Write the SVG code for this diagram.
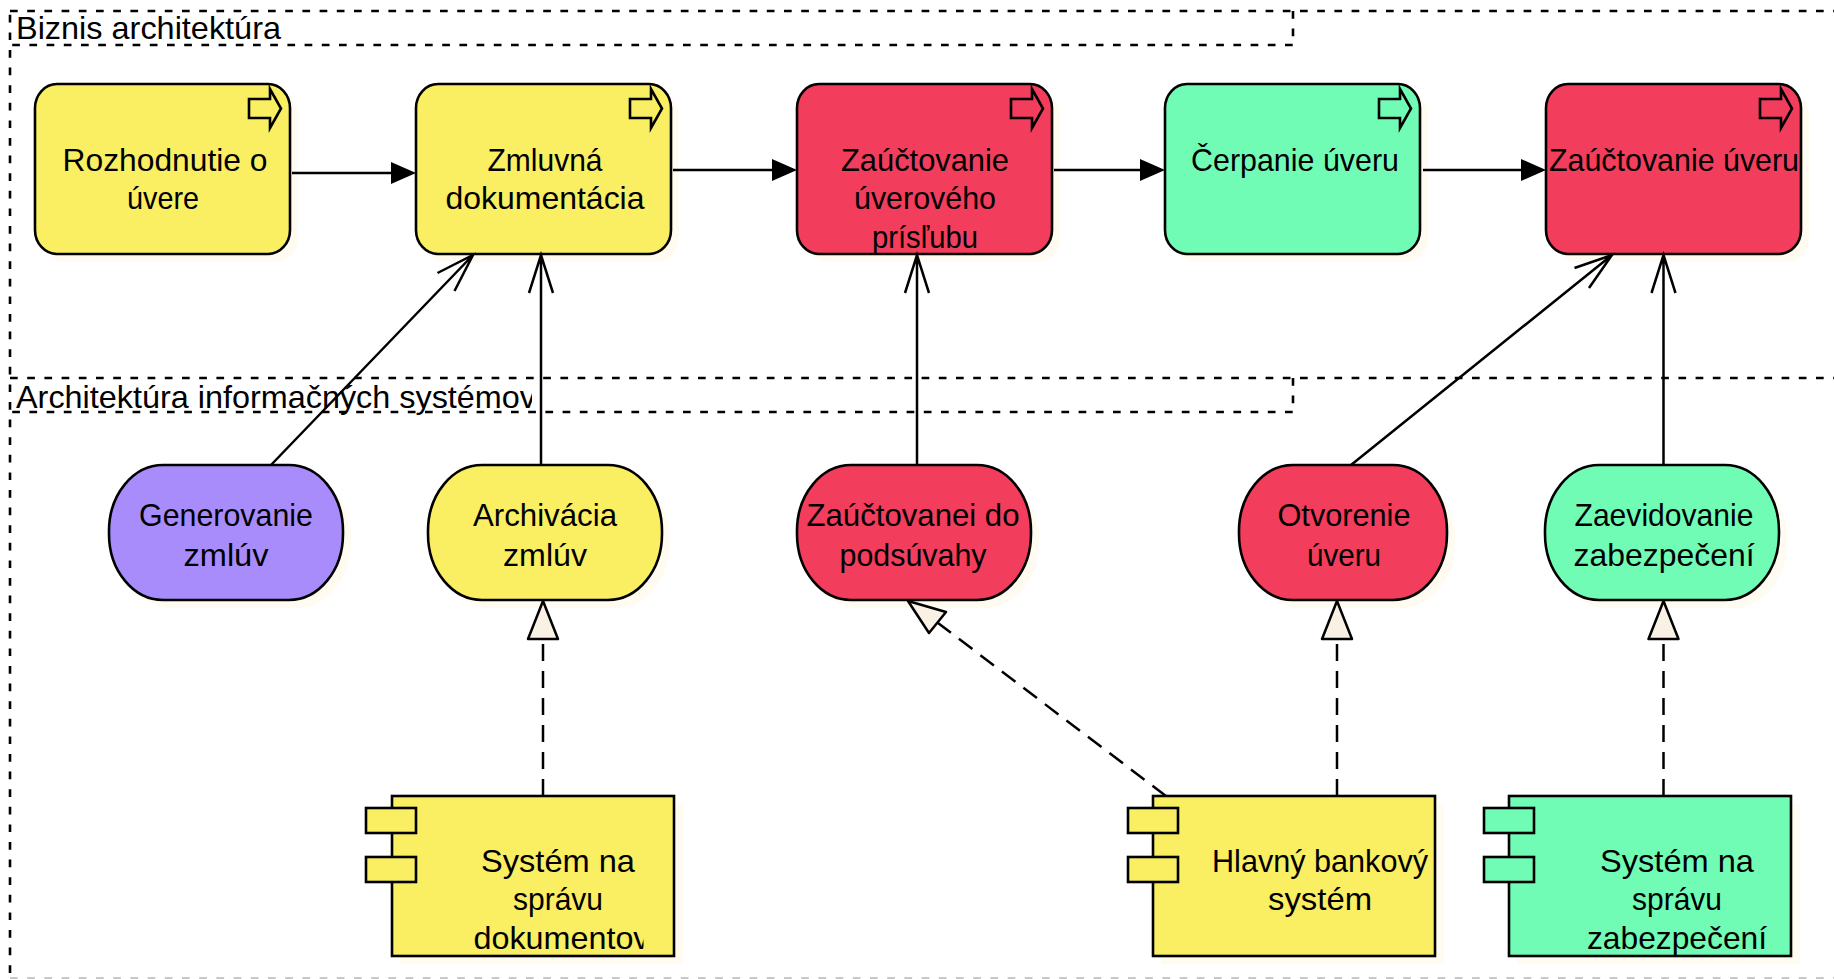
<svg xmlns="http://www.w3.org/2000/svg" width="1834" height="979" viewBox="0 0 1834 979">
<style>
text{font-family:"Liberation Sans",Arial,sans-serif;font-size:32px;fill:#000;text-anchor:middle}
.lbl{text-anchor:start}
.grp{fill:none;stroke:#000;stroke-width:2.6;stroke-dasharray:7.700 9.500}
.tab{stroke-dashoffset:15}
.grv{fill:none;stroke:#000;stroke-width:2.6;stroke-dasharray:7.700 9.900;stroke-dashoffset:13.800}
.tv{stroke-dashoffset:0}
.n{stroke:#000;stroke-width:2.6}
.s{fill:#FFFBF1;stroke:none}
.y{fill:#FAEF62}.r{fill:#F23D5C}.g{fill:#71FCB6}.p{fill:#A98CFB}
.ic{fill:none;stroke:#000;stroke-width:2.6}
.c{fill:none;stroke:#000;stroke-width:2.5}
.d{fill:none;stroke:#000;stroke-width:2.5;stroke-dasharray:17 10}
.t{fill:#F9F1E4;stroke:#000;stroke-width:2.5;stroke-linejoin:round}
.h{fill:#000;stroke:none}
</style>
<defs>
<clipPath id="c1"><rect x="0" y="378" width="532" height="40"/></clipPath>
<clipPath id="c2"><rect x="391" y="796" width="252.500" height="160"/></clipPath>
<path id="icon" class="ic" d="M-41 15H-20V5L-9 24.500L-20 44V34H-41Z"/>
</defs>
<g id="groups">
<g id="group-biznis">
<path class="grv" d="M10 11V978"/>
<path class="grp" d="M10 11H1834"/>
<path class="grp tab" d="M10 45H1293"/>
<path class="grv tv" d="M1293 11V45"/>
<text class="lbl" x="16" y="39" textLength="265" lengthAdjust="spacingAndGlyphs">Biznis architektúra</text>
</g>
<g id="group-is">
<path class="grp" d="M10 378H1834"/>
<path class="grp tab" d="M10 412H1293"/>
<path class="grv tv" d="M1293 378V412"/>
<path d="M10 978H1834" fill="none" stroke="#c8c8c8" stroke-width="2" stroke-dasharray="7.700 9.500"/>
<text class="lbl" x="16" y="408" clip-path="url(#c1)" textLength="520" lengthAdjust="spacingAndGlyphs">Architektúra informačných systémov</text>
</g>
</g>
<g id="n1"><rect class="s" x="43" y="92" width="255" height="170" rx="22" ry="24"/><rect class="n y" x="35" y="84" width="255" height="170" rx="22" ry="24"/><use href="#icon" x="290" y="84"/><text x="165" y="171" textLength="205" lengthAdjust="spacingAndGlyphs">Rozhodnutie o</text><text x="163" y="209" textLength="72" lengthAdjust="spacingAndGlyphs">úvere</text></g>
<g id="n2"><rect class="s" x="424" y="92" width="255" height="170" rx="22" ry="24"/><rect class="n y" x="416" y="84" width="255" height="170" rx="22" ry="24"/><use href="#icon" x="671" y="84"/><text x="545" y="171" textLength="115" lengthAdjust="spacingAndGlyphs">Zmluvná</text><text x="545" y="209" textLength="199" lengthAdjust="spacingAndGlyphs">dokumentácia</text></g>
<g id="n3"><rect class="s" x="805" y="92" width="255" height="170" rx="22" ry="24"/><rect class="n r" x="797" y="84" width="255" height="170" rx="22" ry="24"/><use href="#icon" x="1052" y="84"/><text x="925" y="171" textLength="168" lengthAdjust="spacingAndGlyphs">Zaúčtovanie</text><text x="925" y="209" textLength="142" lengthAdjust="spacingAndGlyphs">úverového</text><text x="925" y="248" textLength="106" lengthAdjust="spacingAndGlyphs">prísľubu</text></g>
<g id="n4"><rect class="s" x="1173" y="92" width="255" height="170" rx="22" ry="24"/><rect class="n g" x="1165" y="84" width="255" height="170" rx="22" ry="24"/><use href="#icon" x="1420" y="84"/><text x="1295" y="171" textLength="208" lengthAdjust="spacingAndGlyphs">Čerpanie úveru</text></g>
<g id="n5"><rect class="s" x="1554" y="92" width="255" height="170" rx="22" ry="24"/><rect class="n r" x="1546" y="84" width="255" height="170" rx="22" ry="24"/><use href="#icon" x="1801" y="84"/><text x="1674" y="171" textLength="250" lengthAdjust="spacingAndGlyphs">Zaúčtovanie úveru</text></g>
<g id="f1"><rect class="s" x="117" y="473" width="234" height="135" rx="54" ry="66"/><rect class="n p" x="109" y="465" width="234" height="135" rx="54" ry="66"/><text x="226" y="526" textLength="174" lengthAdjust="spacingAndGlyphs">Generovanie</text><text x="226" y="566" textLength="85" lengthAdjust="spacingAndGlyphs">zmlúv</text></g>
<g id="f2"><rect class="s" x="436" y="473" width="234" height="135" rx="54" ry="66"/><rect class="n y" x="428" y="465" width="234" height="135" rx="54" ry="66"/><text x="545" y="526" textLength="144" lengthAdjust="spacingAndGlyphs">Archivácia</text><text x="545" y="566" textLength="84" lengthAdjust="spacingAndGlyphs">zmlúv</text></g>
<g id="f3"><rect class="s" x="805" y="473" width="234" height="135" rx="54" ry="66"/><rect class="n r" x="797" y="465" width="234" height="135" rx="54" ry="66"/><text x="913" y="526" textLength="213" lengthAdjust="spacingAndGlyphs">Zaúčtovanei do</text><text x="913" y="566" textLength="147" lengthAdjust="spacingAndGlyphs">podsúvahy</text></g>
<g id="f4"><rect class="s" x="1247" y="473" width="208" height="135" rx="54" ry="66"/><rect class="n r" x="1239" y="465" width="208" height="135" rx="54" ry="66"/><text x="1344" y="526" textLength="133" lengthAdjust="spacingAndGlyphs">Otvorenie</text><text x="1344" y="566" textLength="74" lengthAdjust="spacingAndGlyphs">úveru</text></g>
<g id="f5"><rect class="s" x="1553" y="473" width="234" height="135" rx="54" ry="66"/><rect class="n g" x="1545" y="465" width="234" height="135" rx="54" ry="66"/><text x="1664" y="526" textLength="179" lengthAdjust="spacingAndGlyphs">Zaevidovanie</text><text x="1664" y="566" textLength="181" lengthAdjust="spacingAndGlyphs">zabezpečení</text></g>
<g id="a1"><rect class="s" x="400" y="804" width="283" height="160"/><rect class="n y" x="392" y="796" width="282" height="160"/><rect class="n y" x="366" y="808" width="50" height="25"/><rect class="n y" x="366" y="857" width="50" height="25"/><text x="558" y="872" textLength="154" lengthAdjust="spacingAndGlyphs">Systém na</text><text x="558" y="910" textLength="90" lengthAdjust="spacingAndGlyphs">správu</text><text class="lbl" x="473.500" y="949" clip-path="url(#c2)" textLength="176" lengthAdjust="spacingAndGlyphs">dokumentov</text></g>
<g id="a2"><rect class="s" x="1161" y="804" width="283" height="160"/><rect class="n y" x="1153" y="796" width="282" height="160"/><rect class="n y" x="1128" y="808" width="50" height="25"/><rect class="n y" x="1128" y="857" width="50" height="25"/><text x="1320" y="872" textLength="216" lengthAdjust="spacingAndGlyphs">Hlavný bankový</text><text x="1320" y="910" textLength="104" lengthAdjust="spacingAndGlyphs">systém</text></g>
<g id="a3"><rect class="s" x="1517" y="804" width="283" height="160"/><rect class="n g" x="1509" y="796" width="282" height="160"/><rect class="n g" x="1484" y="808" width="50" height="25"/><rect class="n g" x="1484" y="857" width="50" height="25"/><text x="1677" y="872" textLength="154" lengthAdjust="spacingAndGlyphs">Systém na</text><text x="1677" y="910" textLength="90" lengthAdjust="spacingAndGlyphs">správu</text><text x="1677" y="949" textLength="180" lengthAdjust="spacingAndGlyphs">zabezpečení</text></g>
<g id="connectors">
<path class="c" d="M292 173H393"/><path class="h" d="M416 173L391 162V184Z"/>
<path class="c" d="M673 170H774"/><path class="h" d="M797 170L772 159V181Z"/>
<path class="c" d="M1054 170H1142"/><path class="h" d="M1165 170L1140 159V181Z"/>
<path class="c" d="M1423 170H1523"/><path class="h" d="M1546 170L1521 159V181Z"/>
<path class="c" d="M271 465L473 255M437.500 273L473 255L454.500 291"/>
<path class="c" d="M541 465V255M529 293L541 255L553 293"/>
<path class="c" d="M917 465V255M905 293L917 255L929 293"/>
<path class="c" d="M1351 465L1612 255M1574.500 268L1612 255L1589 288"/>
<path class="c" d="M1663.500 465V255M1651.500 293L1663.500 255L1675.500 293"/>
<path class="d" d="M543 796V644"/><path class="t" d="M543 601L558 639H528Z"/>
<path class="d" d="M1166 796L938 623"/><path class="t" d="M908 601L946 612L929 633Z"/>
<path class="d" d="M1337 796V644"/><path class="t" d="M1337 601L1352 639H1322Z"/>
<path class="d" d="M1663.500 796V644"/><path class="t" d="M1663.500 601L1678.500 639H1648.500Z"/>
</g>
</svg>
